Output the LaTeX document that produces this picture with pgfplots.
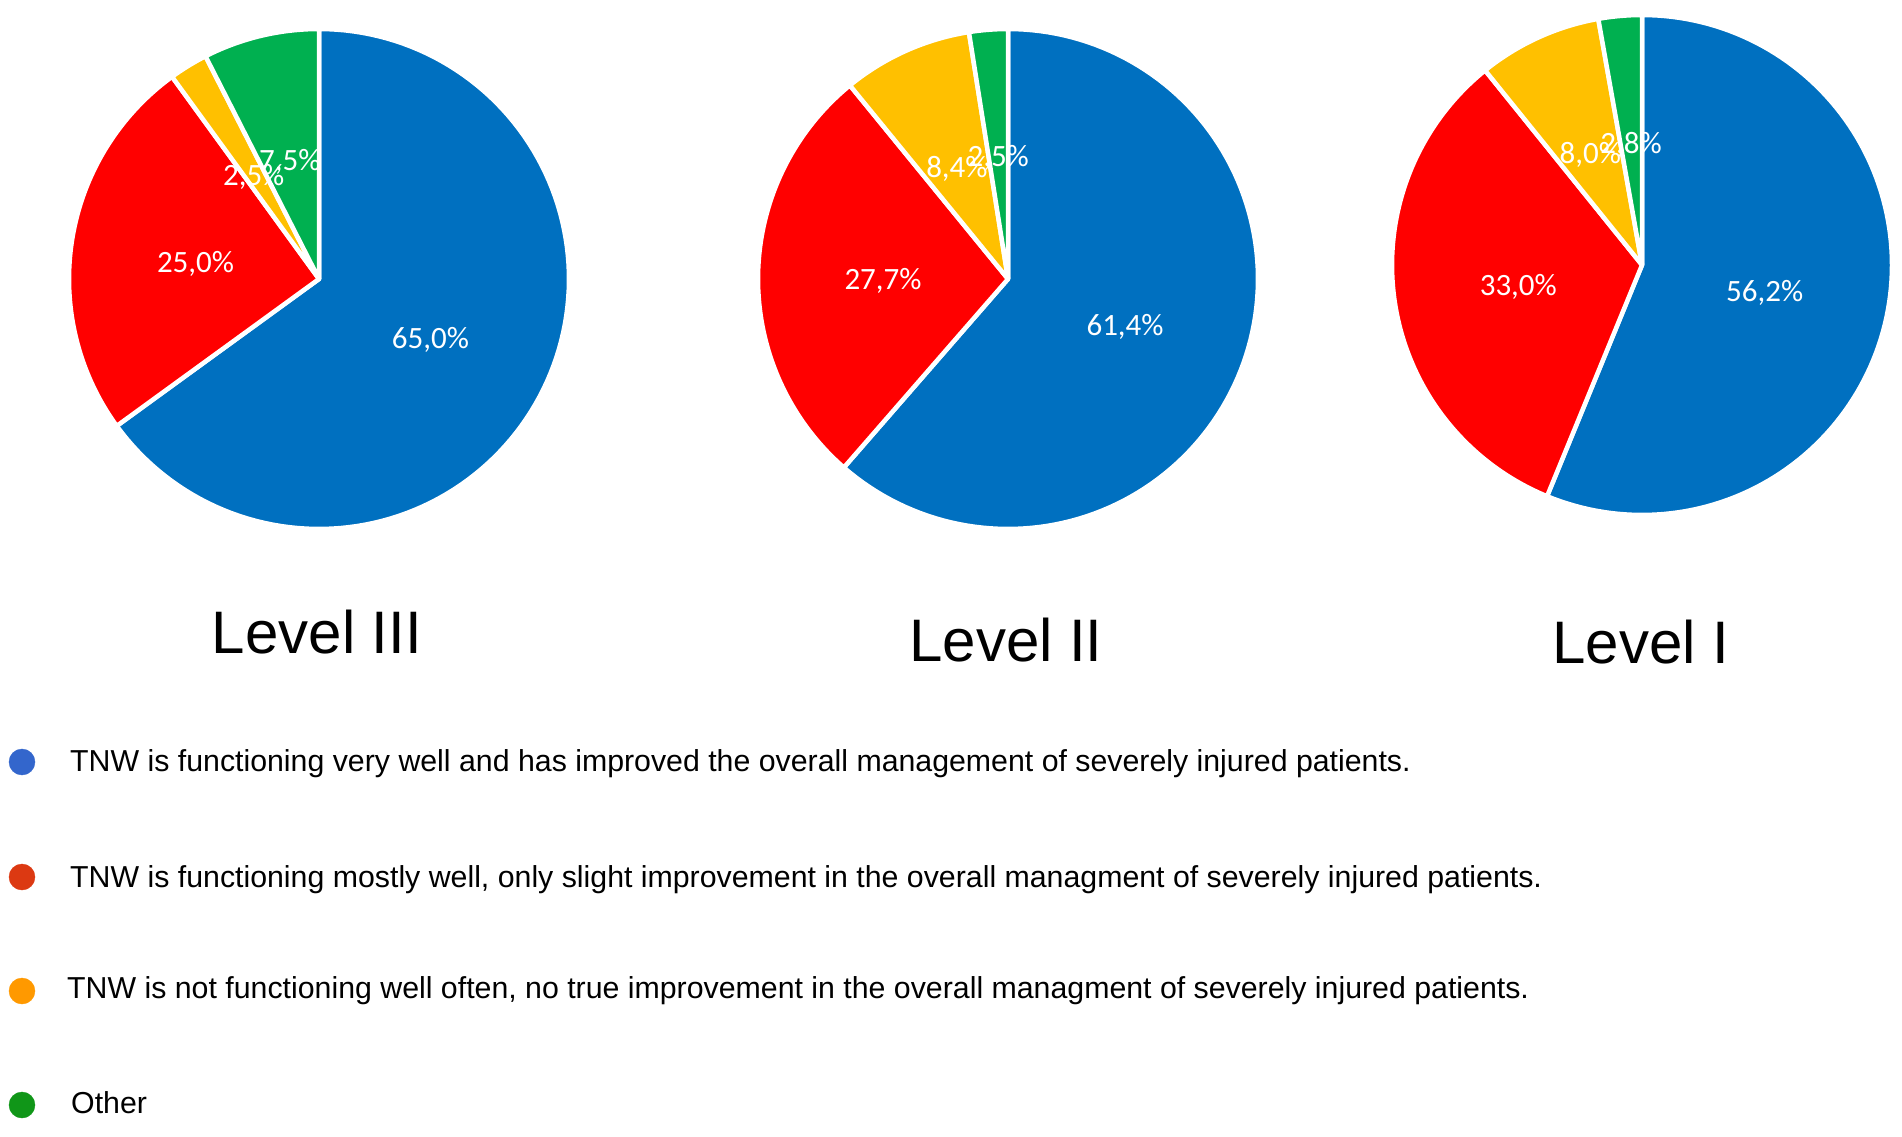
\documentclass[border=0pt]{standalone}
\usepackage{fontspec}
\setmainfont{Liberation Sans}
\newfontfamily\calibri{Carlito}
\usepackage{pgfplots}
\pgfplotsset{compat=1.18}

\definecolor{pblue}{HTML}{0070C0}
\definecolor{pred}{HTML}{FF0000}
\definecolor{pyellow}{HTML}{FFC000}
\definecolor{pgreen}{HTML}{00B050}
\definecolor{lblue}{HTML}{3366CC}
\definecolor{lred}{HTML}{DC3912}
\definecolor{lorange}{HTML}{FF9900}
\definecolor{lgreen}{HTML}{109618}

% one wedge: cx cy R angle-from angle-to colour
\newcommand{\pieslice}[6]{%
  \edef\doslice{\noexpand\addplot[draw=white, line width=4.5pt, line join=round,
    fill=#6, domain=#5:#4, samples=120, variable=\noexpand\t]
    ({#1+#3*cos(\noexpand\t)},{#2+#3*sin(\noexpand\t)}) -- (axis cs:#1,#2) -- cycle;}%
  \doslice}
% one label: cx cy R angle-from angle-to value
\newcommand{\pielabel}[6]{%
  \pgfmathsetmacro\mid{(#4+#5)/2}%
  \edef\dolabel{\noexpand\node[text=white, inner sep=0pt,
    font=\noexpand\calibri\noexpand\fontsize{31}{31}\noexpand\selectfont]
    at (axis cs:{#1+0.5*#3*cos(\mid)},{#2-4+0.5*#3*sin(\mid)})
    {\noexpand\pgfmathprintnumber{#6}\noexpand\%};}%
  \dolabel}
% pie: cx cy R v1 v2 v3 v4 (clockwise from top)
\newcommand{\pie}[7]{%
  \pgfmathsetmacro\aA{90}%
  \pgfmathsetmacro\aB{90-3.6*#4}%
  \pgfmathsetmacro\aC{\aB-3.6*#5}%
  \pgfmathsetmacro\aD{\aC-3.6*#6}%
  \pgfmathsetmacro\aE{\aD-3.6*#7}%
  \pieslice{#1}{#2}{#3}{\aA}{\aB}{pblue}%
  \pieslice{#1}{#2}{#3}{\aB}{\aC}{pred}%
  \pieslice{#1}{#2}{#3}{\aC}{\aD}{pyellow}%
  \pieslice{#1}{#2}{#3}{\aD}{\aE}{pgreen}%
  \pielabel{#1}{#2}{#3}{\aA}{\aB}{#4}%
  \pielabel{#1}{#2}{#3}{\aB}{\aC}{#5}%
  \pielabel{#1}{#2}{#3}{\aC}{\aD}{#6}%
  \pielabel{#1}{#2}{#3}{\aD}{\aE}{#7}%
}

\begin{document}
\begin{tikzpicture}
\begin{axis}[
  width=1902pt, height=1136pt, scale only axis,
  xmin=0, xmax=1902, ymin=0, ymax=1136,
  hide axis, clip=false,
  /pgf/number format/.cd, fixed, fixed zerofill, precision=1, use comma, assume math mode=true,
]
\path (axis cs:0,0) rectangle (axis cs:1902,1136);

% Level III
\pie{319}{857}{250}{65.0}{25.0}{2.5}{7.5}
% Level II
\pie{1008}{857}{250}{61.4}{27.7}{8.4}{2.5}
% Level I
\pie{1642}{871}{250}{56.2}{33.0}{8.0}{2.8}

\node[anchor=base, inner sep=0pt, font=\fontsize{60}{70}\selectfont] at (axis cs:317,482) {Level III};
\node[anchor=base, inner sep=0pt, font=\fontsize{60}{70}\selectfont] at (axis cs:1006,474) {Level II};
\node[anchor=base, inner sep=0pt, font=\fontsize{60}{70}\selectfont] at (axis cs:1641,472) {Level I};

% legend
\addplot[only marks, mark=*, mark size=13pt, color=lblue] coordinates {(22,374)};
\addplot[only marks, mark=*, mark size=13pt, color=lred] coordinates {(22,259)};
\addplot[only marks, mark=*, mark size=13pt, color=lorange] coordinates {(22,145)};
\addplot[only marks, mark=*, mark size=13pt, color=lgreen] coordinates {(22,31)};

\node[anchor=base west, inner sep=0pt, font=\fontsize{30.3}{34}\selectfont] at (axis cs:70,365)
  {TNW is functioning very well and has improved the overall management of severely injured patients.};
\node[anchor=base west, inner sep=0pt, font=\fontsize{30.3}{34}\selectfont] at (axis cs:70,249)
  {TNW is functioning mostly well, only slight improvement in the overall managment of severely injured patients.};
\node[anchor=base west, inner sep=0pt, font=\fontsize{30.3}{34}\selectfont] at (axis cs:67,138)
  {TNW is not functioning well often, no true improvement in the overall managment of severely injured patients.};
\node[anchor=base west, inner sep=0pt, font=\fontsize{30.3}{34}\selectfont] at (axis cs:71,23)
  {Other};
\end{axis}
\end{tikzpicture}
\end{document}
